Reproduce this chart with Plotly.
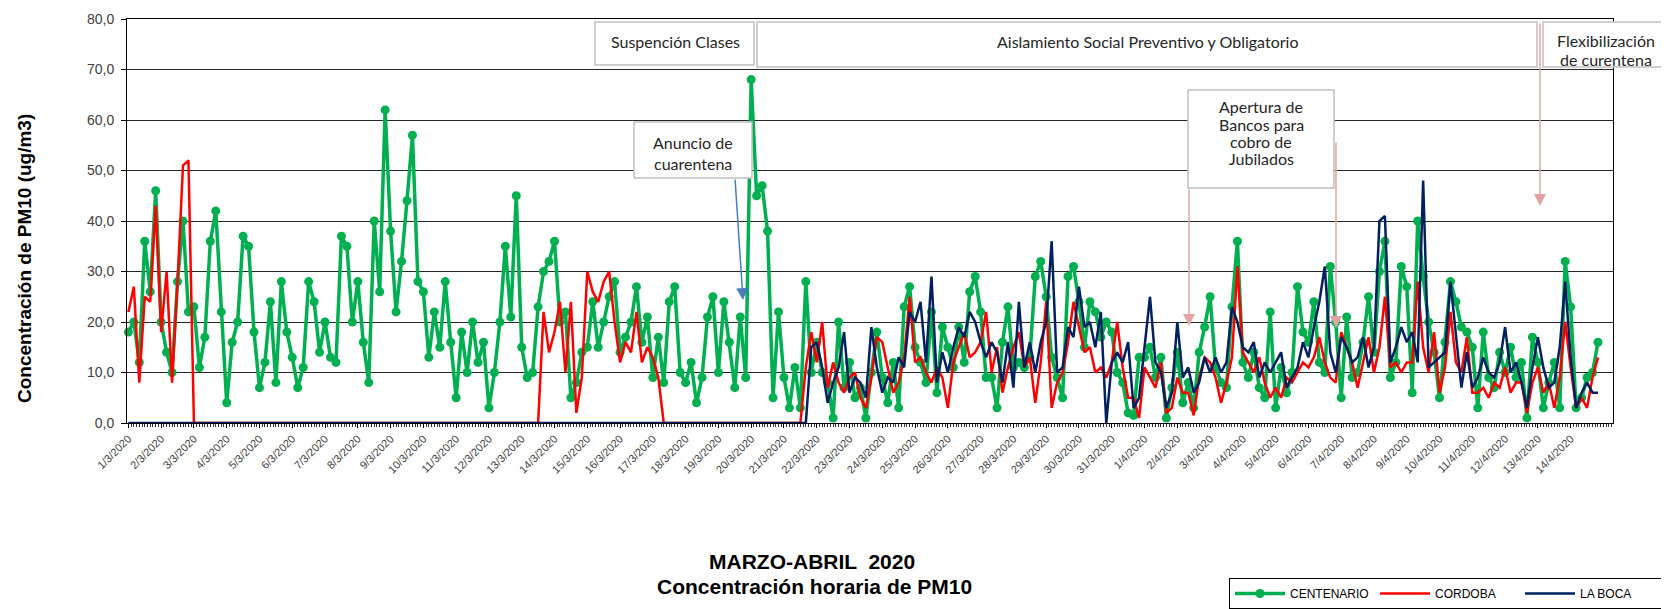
import numpy as np
import plotly.graph_objects as go

# ---------------- data (values every 4 hours, 6 per day) ----------------
dates = ["1/3/2020", "2/3/2020", "3/3/2020", "4/3/2020", "5/3/2020", "6/3/2020", "7/3/2020",
         "8/3/2020", "9/3/2020", "10/3/2020", "11/3/2020", "12/3/2020", "13/3/2020", "14/3/2020",
         "15/3/2020", "16/3/2020", "17/3/2020", "18/3/2020", "19/3/2020", "20/3/2020", "21/3/2020",
         "22/3/2020", "23/3/2020", "24/3/2020", "25/3/2020", "26/3/2020", "27/3/2020", "28/3/2020",
         "29/3/2020", "30/3/2020", "31/3/2020", "1/4/2020", "2/4/2020", "3/4/2020", "4/4/2020",
         "5/4/2020", "6/4/2020", "7/4/2020", "8/4/2020", "9/4/2020", "10/4/2020", "11/4/2020",
         "12/4/2020", "13/4/2020", "14/4/2020"]

centenario = [
    18, 20, 12, 36, 26, 46,
    20, 14, 10, 28, 40, 22,
    23, 11, 17, 36, 42, 22,
    4, 16, 20, 37, 35, 18,
    7, 12, 24, 8, 28, 18,
    13, 7, 11, 28, 24, 14,
    20, 13, 12, 37, 35, 20,
    28, 16, 8, 40, 26, 62,
    38, 22, 32, 44, 57, 28,
    26, 13, 22, 15, 28, 16,
    5, 18, 10, 20, 12, 16,
    3, 10, 20, 35, 21, 45,
    15, 9, 10, 23, 30, 32,
    36, 20, 22, 5, 8, 14,
    15, 24, 15, 20, 25, 28,
    14, 17, 20, 27, 16, 21,
    9, 17, 8, 24, 27, 10,
    8, 12, 4, 9, 21, 25,
    10, 24, 16, 7, 21, 9,
    68, 45, 47, 38, 5, 22,
    9, 3, 11, 3, 28, 10,
    16, 10, 8, 1, 20, 7,
    12, 5, 7, 1, 10, 18,
    9, 4, 12, 3, 23, 27,
    15, 12, 8, 22, 6, 19,
    15, 11, 19, 12, 26, 29,
    22, 9, 9, 3, 16, 23,
    11, 12, 11, 13, 29, 32,
    25, 13, 9, 5, 29, 31,
    24, 15, 24, 22, 17, 20,
    18, 10, 8, 2, 1.5, 13,
    13, 15, 9, 13, 1, 7,
    14, 4, 8, 3, 14, 19,
    25, 11, 8, 7, 23, 36,
    12, 9, 14, 7, 5, 22,
    3, 11, 6, 10, 27, 18,
    16, 24, 12, 10, 31, 20,
    5, 21, 9, 10, 16, 25,
    14, 30, 36, 9, 12, 31,
    27, 6, 40, 29, 20, 14,
    5, 16, 28, 24, 19, 18,
    15, 3, 18, 9, 7, 14,
    10, 15, 9, 12, 1, 17,
    12, 3, 8, 12, 3, 32,
    23, 3, 5, 9, 10, 16,
]

cordoba = [
    22, 27, 8, 25, 24, 43,
    18, 30, 8, 28, 51, 52,
    0, 0, 0, 0, 0, 0,
    0, 0, 0, 0, 0, 0,
    0, 0, 0, 0, 0, 0,
    0, 0, 0, 0, 0, 0,
    0, 0, 0, 0, 0, 0,
    0, 0, 0, 0, 0, 0,
    0, 0, 0, 0, 0, 0,
    0, 0, 0, 0, 0, 0,
    0, 0, 0, 0, 0, 0,
    0, 0, 0, 0, 0, 0,
    0, 0, 0, 0, 22, 14,
    18, 24, 10, 24, 2, 9,
    30, 26, 24, 28, 30, 20,
    12, 16, 14, 22, 12, 15,
    13, 9, 0, 0, 0, 0,
    0, 0, 0, 0, 0, 0,
    0, 0, 0, 0, 0, 0,
    0, 0, 0, 0, 0, 0,
    0, 0, 0, 0, 11, 18,
    12, 20, 7, 12, 8, 6,
    9, 10, 5, 3, 9, 17,
    16, 11, 6, 8, 13, 25,
    12, 13, 10, 8, 11, 9,
    3, 12, 15, 18, 13, 14,
    16, 22, 10, 15, 6, 11,
    15, 18, 11, 13, 4, 12,
    24, 3, 8, 10, 16, 24,
    19, 14, 15, 10, 11, 9,
    12, 20, 11, 5, 5, 1,
    11, 9, 7, 12, 2, 3,
    9, 6, 6, 1.5, 9, 13,
    12, 9, 4, 8, 13, 31,
    14, 12, 10, 13, 8, 5,
    7, 5, 9, 8, 10, 12,
    11, 13, 17, 12, 9, 8,
    18, 15, 12, 7, 12, 17,
    10, 15, 25, 11, 12, 10,
    12, 12, 28, 15, 10, 18,
    6, 11, 22, 12, 10, 17,
    6, 6, 7, 5, 8, 7,
    11, 6, 8, 8, 2, 8,
    11, 6, 8, 3, 9, 20,
    11, 3, 5, 3, 9, 13,
]

la_boca = [
    0, 0, 0, 0, 0, 0,
    0, 0, 0, 0, 0, 0,
    0, 0, 0, 0, 0, 0,
    0, 0, 0, 0, 0, 0,
    0, 0, 0, 0, 0, 0,
    0, 0, 0, 0, 0, 0,
    0, 0, 0, 0, 0, 0,
    0, 0, 0, 0, 0, 0,
    0, 0, 0, 0, 0, 0,
    0, 0, 0, 0, 0, 0,
    0, 0, 0, 0, 0, 0,
    0, 0, 0, 0, 0, 0,
    0, 0, 0, 0, 0, 0,
    0, 0, 0, 0, 0, 0,
    0, 0, 0, 0, 0, 0,
    0, 0, 0, 0, 0, 0,
    0, 0, 0, 0, 0, 0,
    0, 0, 0, 0, 0, 0,
    0, 0, 0, 0, 0, 0,
    0, 0, 0, 0, 0, 0,
    0, 0, 0, 0, 0, 15,
    16, 11, 4, 8, 11, 18,
    6, 9, 8, 5, 19, 11,
    6, 9, 8, 13, 11, 22,
    20, 24, 12, 29, 8, 14,
    10, 15, 19, 17, 22, 20,
    16, 13, 16, 14, 8, 16,
    7, 24, 11, 16, 10, 16,
    20, 36, 10, 11, 19, 17,
    27, 19, 20, 15, 22, 0,
    12, 14, 12, 16, 3, 5,
    15, 25, 12, 10, 3, 6,
    20, 9, 11, 6, 8, 13,
    10, 13, 10, 12, 23, 20,
    15, 14, 16, 9, 12, 10,
    12, 14, 7, 9, 11, 16,
    13, 19, 24, 31, 14, 10,
    17, 15, 12, 13, 17, 11,
    15, 40, 41, 12, 15, 19,
    16, 18, 12, 48, 11, 12,
    13, 14, 28, 18, 7, 14,
    7, 9, 13, 10, 9, 12,
    19, 10, 12, 8, 3, 11,
    17, 11, 7, 8, 15, 28,
    13, 3, 6, 8, 6, 6,
]

HOURS_PER_SAMPLE = 4
x_hours = np.arange(len(centenario)) * HOURS_PER_SAMPLE
tick_hours = np.arange(len(dates)) * 24

# ---------------- geometry (page pixels; the page body adds an 8px offset) ----------------
PAGE_W, PAGE_H, OFF = 1669, 609, 8
W, H = PAGE_W - OFF, PAGE_H - OFF
X0, X1, Y0, Y1 = 127, 1613, 19, 423          # plot area in page pixels
L, R, T, B = X0 - OFF, PAGE_W - X1, Y0 - OFF, PAGE_H - Y1
PW, PH = X1 - X0, Y1 - Y0


def px(X):
    return (X - X0) / PW


def py(Y):
    return (Y1 - Y) / PH


fig = go.Figure()
fig.add_trace(go.Scatter(x=x_hours, y=centenario, name="CENTENARIO", mode="lines+markers",
                         line=dict(color="#00b050", width=3.5),
                         marker=dict(color="#00b050", size=9), cliponaxis=False))
fig.add_trace(go.Scatter(x=x_hours, y=cordoba, name="CORDOBA", mode="lines",
                         line=dict(color="#ff0000", width=2.5)))
fig.add_trace(go.Scatter(x=x_hours, y=la_boca, name="LA BOCA", mode="lines",
                         line=dict(color="#002060", width=2.5)))

TXT_FONT = dict(family="Lato, Open Sans, sans-serif", size=16, color="#262626")
annotations = []
shapes = []


def box(x0, x1, y0, y1):
    shapes.append(dict(type="rect", xref="paper", yref="paper",
                       x0=px(x0), x1=px(x1), y0=py(y1), y1=py(y0),
                       line=dict(color="#c0c0c0", width=1.5), fillcolor="white", layer="above"))


def label(text, xc, yc, size=16):
    annotations.append(dict(text=text, xref="paper", yref="paper", x=px(xc), y=py(yc),
                            xanchor="center", yanchor="middle", showarrow=False,
                            font=dict(TXT_FONT, size=size)))


def arrow(x_tip, y_tip, x_tail, y_tail, color):
    annotations.append(dict(
        text="", xref="paper", yref="paper", x=px(x_tip), y=py(y_tip),
        ax=x_tail - x_tip, ay=y_tail - y_tip, axref="pixel", ayref="pixel",
        showarrow=True, arrowhead=2, arrowsize=1.6, arrowwidth=1.5, arrowcolor=color))


box(595, 754, 22, 65)
box(757, 1537, 22, 67)
box(1543, 1675, 22, 67)
box(634, 752, 122, 178)
box(1188, 1334, 90, 188)

label("Suspención Clases", 675, 41)
label("Aislamiento Social Preventivo y Obligatorio", 1147, 41)
label("Flexibilización", 1606, 40)
label("de curentena", 1606, 60)
label("Anuncio de", 693, 142)
label("cuarentena", 693, 163)
label("Apertura de", 1261, 107)
label("Bancos para", 1261, 124)
label("cobro de", 1261, 141)
label("Jubilados", 1261, 158)

arrow(1189, 326, 1189, 188, "#e3a3a3")
arrow(1336, 328, 1336, 141, "#e3a3a3")
arrow(1540, 206, 1540, 22, "#e3a3a3")
arrow(743, 300, 735, 178, "#4a7ebb")

TITLE_FONT = dict(family="Liberation Sans, Arial", color="black")
annotations.append(dict(
    text="<b>Concentración de PM10 (ug/m3)</b>", xref="paper", yref="paper",
    x=px(24), y=py(259), textangle=-90, showarrow=False, xanchor="center", yanchor="middle",
    font=dict(TITLE_FONT, size=19)))
annotations.append(dict(
    text="<b>MARZO-ABRIL  2020</b>", xref="paper", yref="paper", x=px(812), y=py(561),
    showarrow=False, xanchor="center", yanchor="middle", font=dict(TITLE_FONT, size=21)))
annotations.append(dict(
    text="<b>Concentración horaria de PM10</b>", xref="paper", yref="paper", x=px(814),
    y=py(586), showarrow=False, xanchor="center", yanchor="middle",
    font=dict(TITLE_FONT, size=21)))

fig.update_layout(
    width=W, height=H,
    margin=dict(l=L, r=R, t=T, b=B, autoexpand=False),
    paper_bgcolor="white", plot_bgcolor="white",
    separators=",.",
    font=dict(family="Liberation Sans, Arial", color="#404040"),
    showlegend=True,
    legend=dict(orientation="h", x=px(1229), y=py(578), xanchor="left", yanchor="top",
                bordercolor="#000000", borderwidth=1, bgcolor="white",
                font=dict(family="Liberation Sans Narrow, Liberation Sans, Arial", size=12,
                          color="#000000"),
                itemwidth=50, entrywidth=80, entrywidthmode="pixels", tracegroupgap=0),
    annotations=annotations,
    shapes=shapes,
)

fig.update_xaxes(
    range=[-1, 1087], tickmode="array", tickvals=tick_hours, ticktext=dates,
    tickangle=-45, tickfont=dict(size=11, color="#404040"),
    showgrid=False, zeroline=False, showline=True, linecolor="#000000", linewidth=1,
    mirror=True, ticks="outside", ticklen=4, tickcolor="#000000",
    minor=dict(ticks="outside", dtick=2, tick0=0, ticklen=3, tickcolor="#333333", showgrid=False),
)
fig.update_yaxes(
    range=[0, 80], dtick=10, tick0=0, tickformat=".1f",
    tickfont=dict(size=14, color="#404040"),
    showgrid=True, gridcolor="#262626", gridwidth=1, zeroline=False,
    showline=True, linecolor="#000000", linewidth=1, mirror=True,
    ticks="outside", ticklen=5, tickcolor="#000000", ticklabelstandoff=4,
)

fig.write_html("out.html")
